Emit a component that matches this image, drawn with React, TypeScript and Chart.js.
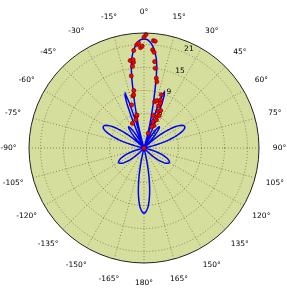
import { useEffect, useRef } from "react";
import { Chart, registerables } from "chart.js";

Chart.register(...registerables);

// Angular categories: one per degree, clockwise from the top (0°)
const angleCategories: number[] = Array.from({ length: 360 }, (_, i) => i);

// Angular tick labels every 15°
const thetaTickLabels = [
  "0°", "15°", "30°", "45°", "60°", "75°", "90°", "105°", "120°", "135°", "150°", "165°",
  "180°", "-165°", "-150°", "-135°", "-120°", "-105°", "-90°", "-75°", "-60°", "-45°", "-30°", "-15°",
];

// Radial axis
const rMin = -6;
const rMax = 24;
const radialTicks = [-3, 3, 9, 15, 21];
const radialTickLabels = ["-3", "3", "9", "15", "21"];

// Model pattern (dB), one value per degree 0..359
const patternDb = [
  22.5, 22.4, 22.2, 21.8, 21.3, 20.6, 19.7, 18.6, 17.3, 15.3,
  12.3, 8.5, 5.2, 2.4, 0, -2.8, -5.5, 0, 5, 8.5,
  9.5, 8.8, 6.5, 3, -1, -4.5, -6, -6, -6, -4.7,
  -3.4, -2.2, -1.2, -0.4, 0.3, 0.7, 0.8, 0.7, 0.3, -0.4,
  -1.2, -2.2, -3.4, -4.7, -6, -6, -6, -4.8, -3.7, -2.5,
  -1.4, -0.3, 0.7, 1.6, 2.5, 3.3, 4.0, 4.6, 5.1, 5.5,
  5.8, 5.95, 6.0, 5.95, 5.8, 5.5, 5.1, 4.6, 4.0, 3.3,
  2.5, 1.6, 0.7, -0.3, -1.4, -2.5, -3.7, -4.8, -6, -6,
  -6, -6, -6, -6, -6, -6, -6, -6, -6, -6,
  -6, -6, -6, -6, -6, -6, -6, -6, -6, -6,
  -6, -6, -6, -5.3, -4.7, -4.0, -3.4, -2.8, -2.2, -1.7,
  -1.1, -0.6, -0.2, 0.2, 0.6, 0.9, 1.1, 1.3, 1.5, 1.6,
  1.6, 1.6, 1.5, 1.3, 1.1, 0.9, 0.6, 0.2, -0.2, -0.6,
  -1.1, -1.7, -2.2, -2.8, -3.4, -4.0, -4.7, -5.3, -6, -6,
  -6, -6, -6, -6, -6, -6, -6, -6, -6, -6,
  -6, -6, -6, -6, -6, -6, -6, -6, -6, -6,
  -6, -6, -6, -6, -6, -6, -6, -4.1, -2.2, -0.4,
  1.4, 3.0, 4.6, 6.0, 7.3, 8.4, 9.3, 10.0, 10.5, 10.9,
  11.0, 10.9, 10.5, 10.0, 9.3, 8.4, 7.3, 6.0, 4.6, 3.0,
  1.4, -0.4, -2.2, -4.1, -6, -6, -6, -6, -6, -6,
  -6, -6, -6, -6, -6, -6, -6, -6, -6, -6,
  -6, -6, -6, -6, -6, -6, -6, -6, -6, -6,
  -6, -6, -6, -5.3, -4.7, -4.0, -3.4, -2.8, -2.2, -1.7,
  -1.1, -0.6, -0.2, 0.2, 0.6, 0.9, 1.1, 1.3, 1.5, 1.6,
  1.6, 1.6, 1.5, 1.3, 1.1, 0.9, 0.6, 0.2, -0.2, -0.6,
  -1.1, -1.7, -2.2, -2.8, -3.4, -4.0, -4.7, -5.3, -6, -6,
  -6, -6, -6, -6, -6, -6, -6, -6, -6, -6,
  -6, -6, -6, -6, -6, -6, -6, -6, -6, -6,
  -6, -6, -6, -4.8, -3.7, -2.5, -1.4, -0.3, 0.7, 1.6,
  2.5, 3.3, 4.0, 4.6, 5.1, 5.5, 5.8, 5.95, 6.0, 5.95,
  5.8, 5.5, 5.1, 4.6, 4.0, 3.3, 2.5, 1.6, 0.7, -0.3,
  -1.4, -2.5, -3.7, -4.8, -6, -6, -6, -4.7, -3.4, -2.2,
  -1.2, -0.4, 0.3, 0.7, 0.8, 0.7, 0.3, -0.4, -1.2, -2.2,
  -3.4, -4.7, -6, -6, -6, -6, -4.5, -1, 3, 6.5,
  8.5, 9, 6.5, 1, -5.5, -2.8, 0, 2.4, 5.2, 8.5,
  12.3, 15.3, 17.3, 18.6, 19.7, 20.6, 21.3, 21.8, 22.2, 22.4,
];

// Measured samples: angle (deg) and level (dB)
const measAngle = [
  1, 0, 5, 6, -3, -4, -1, -2, -6, 5, 6, -7, -9, -7, -8, -10, 7, 8, 10, 11,
  -10, -11, 18, 19, 20, 19, -16, -12, -25, 13, 21, 22, 19, 20, 16, 0, 15, 24, 25, 24,
  24, 16, -13, -16, -12,
];
const measDb = [
  23.6, 22.9, 22.1, 22.0, 21.4, 21.0, 20.6, 20.2, 19.6, 19.7, 19.1, 17.2, 17.1, 16.5, 15.5, 13.1, 16.7, 15.0, 12.5, 11.6,
  9.2, 8.1, 8.6, 7.3, 6.4, 5.6, 5.7, 2.8, 1.1, 6.4, 4.2, 2.8, 1.3, -0.1, -2, -6, 6.8, 4.7, 3.3, 2.0,
  0.4, 2.8, 2.6, 1.7, 7.9,
];

const FONT = "DejaVu Sans";
const GRID = "rgba(40,40,20,0.65)";
const RLABEL_ANGLE = 22.5;

function polarPoint(s: any, deg: number, dist: number) {
  const a = (deg * Math.PI) / 180;
  return { x: s.xCenter + Math.sin(a) * dist, y: s.yCenter - Math.cos(a) * dist };
}

const polarDecor = {
  id: "polarDecor",
  beforeDraw(chart: any) {
    const s = chart.scales.r;
    const ctx = chart.ctx;
    ctx.save();
    ctx.beginPath();
    ctx.arc(s.xCenter, s.yCenter, s.drawingArea, 0, Math.PI * 2);
    ctx.fillStyle = "#d5de9c";
    ctx.fill();
    ctx.restore();
  },
  beforeDatasetsDraw(chart: any) {
    const s = chart.scales.r;
    const ctx = chart.ctx;
    ctx.save();
    ctx.fillStyle = "#000";
    ctx.font = `7.5px "${FONT}"`;
    ctx.textAlign = "left";
    ctx.textBaseline = "alphabetic";
    radialTicks.forEach((v, i) => {
      const p = polarPoint(s, RLABEL_ANGLE, s.getDistanceFromCenterForValue(v));
      ctx.fillText(radialTickLabels[i], p.x + 0.5, p.y - 1);
    });
    ctx.restore();
  },
  afterDraw(chart: any) {
    const s = chart.scales.r;
    const ctx = chart.ctx;
    ctx.save();
    ctx.beginPath();
    ctx.arc(s.xCenter, s.yCenter, s.drawingArea, 0, Math.PI * 2);
    ctx.strokeStyle = "#222";
    ctx.lineWidth = 1;
    ctx.stroke();
    ctx.fillStyle = "#000";
    ctx.font = `7.5px "${FONT}"`;
    ctx.textAlign = "center";
    ctx.textBaseline = "middle";
    thetaTickLabels.forEach((lab, k) => {
      const p = s.getPointPosition(k * 15, s.drawingArea + 20.5);
      ctx.fillText(lab, p.x, p.y);
    });
    ctx.restore();
  },
};

export default function App() {
  const ref = useRef<HTMLCanvasElement | null>(null);

  useEffect(() => {
    if (!ref.current) return;

    const markerSets: (number | null)[][] = [];
    measAngle.forEach((a, i) => {
      const idx = ((Math.round(a) % 360) + 360) % 360;
      let set = markerSets.find((s) => s[idx] === null);
      if (!set) {
        set = new Array(360).fill(null);
        markerSets.push(set);
      }
      set[idx] = measDb[i];
    });

    const chart = new Chart(ref.current, {
      type: "radar",
      data: {
        labels: angleCategories,
        datasets: [
          ...markerSets.map((d) => ({
            data: d,
            showLine: false,
            fill: false,
            pointRadius: 2.1,
            pointBackgroundColor: "#ff0000",
            pointBorderColor: "#3a0000",
            pointBorderWidth: 0.5,
            borderWidth: 0,
            order: 0,
          })),
          {
            data: patternDb,
            borderColor: "#0000ff",
            borderWidth: 1.5,
            pointRadius: 0,
            fill: false,
            tension: 0,
            order: 1,
          },
        ],
      } as any,
      options: {
        animation: false,
        responsive: false,
        layout: { padding: { left: 29, right: 28, top: 33, bottom: 34 } },
        plugins: { legend: { display: false }, tooltip: { enabled: false } },
        elements: { line: { tension: 0 } },
        scales: {
          r: {
            min: rMin,
            max: rMax,
            startAngle: 0,
            beginAtZero: false,
            afterBuildTicks: (scale: any) => {
              scale.ticks = radialTicks.map((v) => ({ value: v }));
            },
            ticks: { display: false },
            pointLabels: { display: false },
            grid: { circular: true, color: GRID, lineWidth: 0.7, borderDash: [1, 2] },
            border: { dash: [1, 2] },
            angleLines: {
              display: true,
              color: GRID,
              lineWidth: (c: any) => (c.index % 15 === 0 ? 0.7 : 0),
              borderDash: [1, 2],
            },
          },
        },
      } as any,
      plugins: [polarDecor],
    });

    return () => chart.destroy();
  }, []);

  return (
    <div style={{ position: "absolute", left: 0, top: 0, width: 287, height: 297 }}>
      <canvas ref={ref} width={287} height={297} style={{ display: "block" }} />
    </div>
  );
}
